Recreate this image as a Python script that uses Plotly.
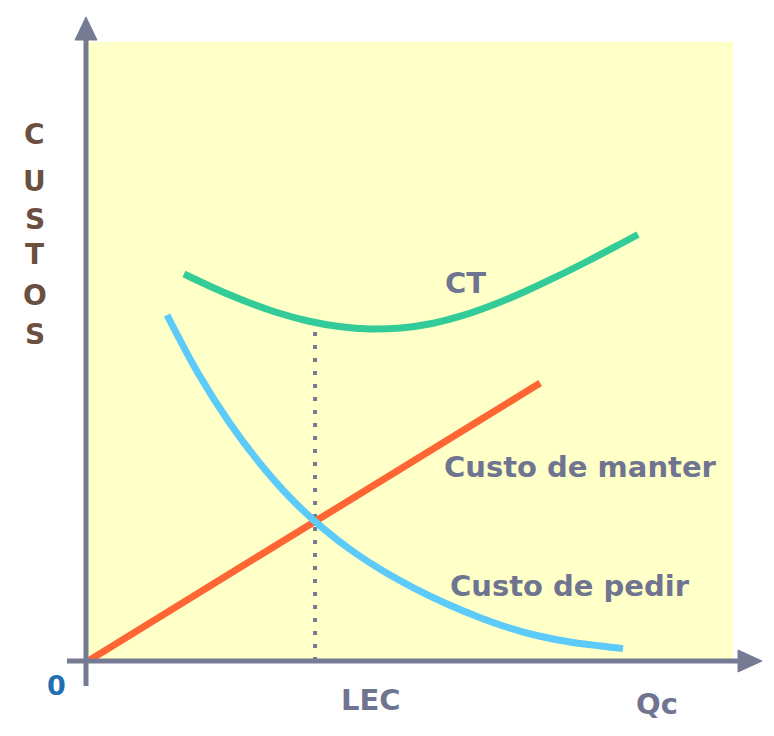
import plotly.graph_objects as go

# Values (x: 0..10, y: 0..10 units)
ct_x = [1.488, 1.969, 2.450, 2.930, 3.411, 3.891, 4.372, 4.853,
        5.333, 5.814, 6.295, 6.775, 7.256, 7.736, 8.217, 8.527]
ct_y = [6.252, 6.018, 5.808, 5.630, 5.493, 5.404, 5.363, 5.380,
        5.452, 5.582, 5.759, 5.969, 6.204, 6.454, 6.717, 6.890]

pedir_x = [1.225, 1.705, 2.186, 2.667, 3.147, 3.628, 4.109, 4.589,
           5.070, 5.550, 6.031, 6.512, 6.992, 7.473, 7.953, 8.295]
pedir_y = [5.590, 4.653, 3.861, 3.191, 2.625, 2.157, 1.769, 1.446,
           1.171, 0.929, 0.719, 0.541, 0.404, 0.307, 0.242, 0.200]

manter_x = [0.0, 7.01]
manter_y = [0.0, 4.49]

lec_x = 3.52
lec_ct = 5.46

y_letters = ["C", "U", "S", "T", "O", "S"]

AX = "#767b94"
TXT = "#6f7490"
FONT = "DejaVu Sans"

fig = go.Figure()
fig.add_trace(go.Scatter(x=[lec_x, lec_x], y=[0, lec_ct], mode="lines",
                         line=dict(color=AX, width=4, dash="4px,9px"),
                         hoverinfo="skip", showlegend=False))
fig.add_trace(go.Scatter(x=manter_x, y=manter_y, mode="lines",
                         line=dict(color="#ff6633", width=7), showlegend=False))
fig.add_trace(go.Scatter(x=pedir_x, y=pedir_y, mode="lines",
                         line=dict(color="#5ccbfa", width=7, shape="spline", smoothing=1.0),
                         showlegend=False))
fig.add_trace(go.Scatter(x=ct_x, y=ct_y, mode="lines",
                         line=dict(color="#33cc99", width=7, shape="spline", smoothing=1.0),
                         showlegend=False))

shapes = [
    dict(type="line", xref="paper", yref="paper", x0=-0.0031, x1=-0.0031, y0=-0.0404, y1=1.004,
         line=dict(color=AX, width=5), layer="above"),
    dict(type="path", xref="paper", yref="paper",
         path="M -0.0031 1.0404 L -0.0202 1.0032 L 0.0140 1.0032 Z",
         fillcolor=AX, line=dict(color=AX, width=1), layer="above"),
    dict(type="line", xref="paper", yref="paper", x0=-0.0326, x1=1.010, y0=0, y1=0,
         line=dict(color=AX, width=5), layer="above"),
    dict(type="path", xref="paper", yref="paper",
         path="M 1.0450 0 L 1.0078 0.0178 L 1.0078 -0.0178 Z",
         fillcolor=AX, line=dict(color=AX, width=1), layer="above"),
]

def lab(text, x, y, size=29, color=TXT, ref="x"):
    r = "paper" if ref == "paper" else "x"
    ry = "paper" if ref == "paper" else "y"
    return dict(text="<b>%s</b>" % text, x=x, y=y, xref=r, yref=ry, showarrow=False,
                font=dict(family=FONT, size=size, color=color), xanchor="center", yanchor="middle")

annotations = [
    lab("CT", 5.86, 6.11),
    lab("Custo de manter", 7.64, 3.13),
    lab("Custo de pedir", 7.47, 1.21),
    lab("LEC", 0.439, -0.063, ref="paper"),
    lab("Qc", 0.882, -0.0695, ref="paper"),
    lab("0", -0.0496, -0.0388, size=27, color="#1f6fb2", ref="paper"),
]
y_pos = [0.850, 0.775, 0.714, 0.656, 0.591, 0.527]
for t, yy in zip(y_letters, y_pos):
    annotations.append(lab(t, -0.0822, yy, size=28, color="#6b5040", ref="paper"))

fig.update_layout(
    width=774, height=736,
    margin=dict(l=80, r=49, t=34, b=83),
    paper_bgcolor="white", plot_bgcolor="#ffffc8",
    xaxis=dict(range=[0, 10], visible=False, fixedrange=True),
    yaxis=dict(range=[0, 10], visible=False, fixedrange=True),
    shapes=shapes, annotations=annotations,
    showlegend=False,
)
fig.write_html("out.html")
